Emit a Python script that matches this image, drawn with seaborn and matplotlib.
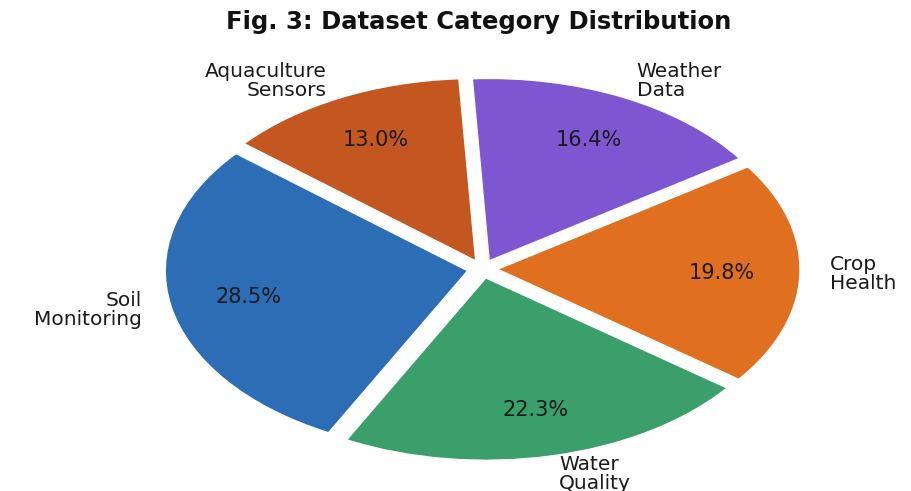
import matplotlib
matplotlib.use("Agg")
import matplotlib.pyplot as plt
import seaborn as sns

categories = ["Soil\nMonitoring", "Water\nQuality", "Crop\nHealth", "Weather\nData", "Aquaculture\nSensors"]
values = [28.5, 22.3, 19.8, 16.4, 13.0]
colors = ["#2d6db5", "#3a9f6a", "#e07020", "#7e56d2", "#c4561f"]

sns.set_theme(style="white")
plt.rcParams['font.family'] = ['DejaVu Sans']

fig = plt.figure(figsize=(9.12, 4.91), dpi=100)
ax = fig.add_axes([104.5/912, -6/491, 756/912, 456/491])
wedges, texts, autotexts = ax.pie(
    values, labels=categories, colors=colors, autopct="%1.1f%%",
    startangle=140, explode=[0.05] * len(values), pctdistance=0.74,
    labeldistance=1.1, textprops={"fontsize": 14.5, "color": "#1a1a1a"},
)
for t in texts:
    t.set_linespacing(1.0)
for t in autotexts:
    t.set_fontsize(15)
ax.set_aspect("auto")
ax.set_xlim(-1.25, 1.25)
ax.set_ylim(-1.25, 1.25)
fig.text(0.525, 0.955, "Fig. 3: Dataset Category Distribution", ha="center", va="center",
         fontsize=17.5, fontweight="bold", color="#111111")
fig.savefig("out.png", dpi=100)
